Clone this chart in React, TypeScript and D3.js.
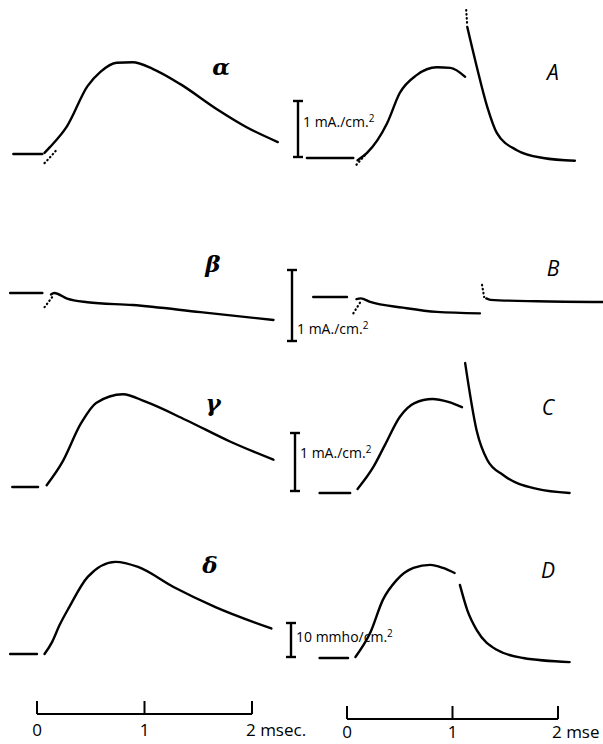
import React from "react";
import * as d3 from "d3";

type Pt = [number, number];

const W = 603;
const H = 744;

// time scale ticks (msec)
const timeTicks = [0, 1, 2];
const leftTickLabels = ["0", "1", "2 msec."];
const rightTickLabels = ["0", "1", "2 mse"];

// α  (computed current, mA/cm²) vs time (msec)
const alphaBefore: Pt[] = [[-0.22, 0], [0.05, 0]];
const alphaStart: Pt[] = [[0.07, -0.16], [0.13, -0.04], [0.19, 0.09]];
const alphaCurve: Pt[] = [
  [0.07, 0.02], [0.12, 0.12], [0.28, 0.49], [0.47, 1.19], [0.59, 1.44],
  [0.74, 1.6], [0.89, 1.61], [1.08, 1.49], [1.33, 1.23], [1.67, 0.79],
  [1.95, 0.47], [2.24, 0.21],
];

// A  (recorded current, mA/cm²)
const aBefore: Pt[] = [[-0.38, 0], [0.06, 0]];
const aStart: Pt[] = [[0.09, -0.12], [0.17, 0.05]];
const aRise: Pt[] = [
  [0.1, -0.04], [0.19, 0.09], [0.38, 0.62], [0.5, 1.16], [0.66, 1.48],
  [0.85, 1.62], [0.98, 1.61], [1.12, 1.45],
];
const aSpike: Pt[] = [[1.13, 2.64], [1.14, 2.36]];
const aFall: Pt[] = [
  [1.14, 2.34], [1.23, 1.63], [1.33, 0.91], [1.42, 0.45], [1.61, 0.14],
  [1.86, 0.0], [2.16, -0.05],
];

// β
const betaBefore: Pt[] = [[-0.25, 0], [0.05, 0]];
const betaStart: Pt[] = [[0.07, -0.2], [0.14, -0.06]];
const betaCurve: Pt[] = [
  [0.13, -0.02], [0.16, 0.0], [0.28, -0.08], [0.47, -0.13], [0.89, -0.17],
  [1.52, -0.27], [2.2, -0.38],
];

// B
const bBefore: Pt[] = [[-0.32, 0], [0.0, 0]];
const bStart: Pt[] = [[0.06, -0.23], [0.14, -0.04]];
const bCurve: Pt[] = [
  [0.09, -0.03], [0.13, -0.02], [0.22, -0.07], [0.53, -0.15], [0.85, -0.21],
  [1.26, -0.23],
];
const bSpike: Pt[] = [[1.28, 0.17], [1.3, 0.0]];
const bAfter: Pt[] = [[1.32, -0.02], [1.36, -0.04], [1.8, -0.06], [2.43, -0.07]];

// γ
const gammaBefore: Pt[] = [[-0.23, 0], [0.01, 0]];
const gammaCurve: Pt[] = [
  [0.09, 0.03], [0.23, 0.41], [0.41, 1.1], [0.55, 1.45], [0.8, 1.6],
  [1.01, 1.47], [1.38, 1.16], [1.8, 0.78], [2.2, 0.47],
];

// C
const cBefore: Pt[] = [[-0.26, 0], [0.03, 0]];
const cRise: Pt[] = [
  [0.1, 0.07], [0.25, 0.45], [0.36, 0.83], [0.5, 1.31], [0.64, 1.55],
  [0.81, 1.62], [0.96, 1.57], [1.09, 1.48],
];
const cFall: Pt[] = [
  [1.12, 2.24], [1.23, 1.07], [1.33, 0.57], [1.48, 0.31], [1.8, 0.07],
  [2.11, 0.0],
];

// δ  (conductance, mmho/cm²)
const deltaBefore: Pt[] = [[-0.25, 0], [0.0, 0]];
const deltaCurve: Pt[] = [
  [0.07, 0.0], [0.14, 3.5], [0.21, 8.5], [0.3, 13.8], [0.47, 22.6],
  [0.73, 27.1], [0.94, 25.6], [1.27, 19.7], [1.66, 13.8], [2.18, 7.5],
];

// D
const dBefore: Pt[] = [[-0.26, 0], [0.01, 0]];
const dRise: Pt[] = [
  [0.08, 0.3], [0.22, 7.4], [0.34, 17.1], [0.47, 22.9], [0.63, 26.5],
  [0.79, 27.4], [0.91, 26.5], [1.02, 25.0],
];
const dFall: Pt[] = [
  [1.07, 21.5], [1.14, 14.1], [1.23, 8.2], [1.42, 2.4], [1.67, 0.0],
  [2.11, -1.2],
];

// layout
const xLeft = d3.scaleLinear().domain([0, 2]).range([37, 252]);
const xRight = d3.scaleLinear().domain([0, 2]).range([347, 558]);

type Seg = { data: Pt[]; dotted?: boolean };
type Panel = {
  right: boolean;
  base: number;
  ppu: number;
  label: string;
  lx: number;
  ly: number;
  segs: Seg[];
};

const panels: Panel[] = [
  { right: false, base: 154, ppu: 57, label: "α", lx: 221, ly: 75,
    segs: [{ data: alphaBefore }, { data: alphaStart, dotted: true }, { data: alphaCurve }] },
  { right: true, base: 158, ppu: 56, label: "A", lx: 553, ly: 80,
    segs: [{ data: aBefore }, { data: aStart, dotted: true }, { data: aRise },
      { data: aSpike, dotted: true }, { data: aFall }] },
  { right: false, base: 293, ppu: 71, label: "β", lx: 213, ly: 272,
    segs: [{ data: betaBefore }, { data: betaStart, dotted: true }, { data: betaCurve }] },
  { right: true, base: 297, ppu: 71, label: "B", lx: 553, ly: 276,
    segs: [{ data: bBefore }, { data: bStart, dotted: true }, { data: bCurve },
      { data: bSpike, dotted: true }, { data: bAfter }] },
  { right: false, base: 487, ppu: 58, label: "γ", lx: 213, ly: 411,
    segs: [{ data: gammaBefore }, { data: gammaCurve }] },
  { right: true, base: 493, ppu: 58, label: "C", lx: 548, ly: 415,
    segs: [{ data: cBefore }, { data: cRise }, { data: cFall }] },
  { right: false, base: 654, ppu: 3.4, label: "δ", lx: 210, ly: 573,
    segs: [{ data: deltaBefore }, { data: deltaCurve }] },
  { right: true, base: 658, ppu: 3.4, label: "D", lx: 548, ly: 578,
    segs: [{ data: dBefore }, { data: dRise }, { data: dFall }] },
];

// calibration bars: value in panel units
const bars = [
  { x: 298, bottom: 157, ppu: 56, value: 1, text: "1 mA./cm.", tx: 303, ty: 127 },
  { x: 292, bottom: 341, ppu: 71, value: 1, text: "1 mA./cm.", tx: 297, ty: 334 },
  { x: 295, bottom: 491, ppu: 58, value: 1, text: "1 mA./cm.", tx: 300, ty: 458 },
  { x: 291, bottom: 657, ppu: 3.4, value: 10, text: "10 mmho/cm.", tx: 296, ty: 642 },
];

const sans = "'Open Sans', 'DejaVu Sans', sans-serif";

function App() {
  return (
    <svg
      width={W}
      height={H}
      style={{ position: "absolute", left: 0, top: 0, background: "#fff" }}
    >
      {panels.map((p, i) => {
        const x = p.right ? xRight : xLeft;
        const y = d3.scaleLinear().domain([0, 1]).range([p.base, p.base - p.ppu]);
        const line = d3
          .line<Pt>()
          .x((d) => x(d[0]))
          .y((d) => y(d[1]))
          .curve(d3.curveMonotoneX);
        return (
          <g key={i}>
            {p.segs.map((s, j) => (
              <path
                key={j}
                d={line(s.data) || ""}
                fill="none"
                stroke="#000"
                strokeWidth={s.dotted ? 2.2 : 2.4}
                strokeLinecap="round"
                strokeDasharray={s.dotted ? "0.5 3.5" : undefined}
              />
            ))}
            <text
              x={p.lx}
              y={p.ly}
              textAnchor="middle"
              fontFamily={p.right ? sans : "'DejaVu Serif', serif"}
              fontStyle="italic"
              fontWeight={p.right ? "normal" : "bold"}
              fontSize={p.right ? 21 : 23}
            >
              {p.label}
            </text>
          </g>
        );
      })}

      {bars.map((b, i) => {
        const top = b.bottom - b.ppu * b.value;
        return (
          <g key={i} stroke="#000" strokeWidth={2.4}>
            <line x1={b.x} x2={b.x} y1={top} y2={b.bottom} />
            <line x1={b.x - 5} x2={b.x + 5} y1={top} y2={top} />
            <line x1={b.x - 5} x2={b.x + 5} y1={b.bottom} y2={b.bottom} />
            <text
              x={b.tx}
              y={b.ty}
              stroke="none"
              fill="#000"
              fontFamily={sans}
              fontSize={14}
            >
              {b.text}
              <tspan dy={-5} fontSize={10}>2</tspan>
            </text>
          </g>
        );
      })}

      {[
        { x: xLeft, y: 714, labels: leftTickLabels, ly: 736 },
        { x: xRight, y: 719, labels: rightTickLabels, ly: 738 },
      ].map((a, i) => (
        <g key={i}>
          <line
            x1={a.x(0)}
            x2={a.x(2)}
            y1={a.y}
            y2={a.y}
            stroke="#000"
            strokeWidth={2}
          />
          {timeTicks.map((t, k) => (
            <g key={k}>
              <line
                x1={a.x(t)}
                x2={a.x(t)}
                y1={a.y}
                y2={a.y - 13}
                stroke="#000"
                strokeWidth={2}
              />
              <text
                x={a.x(t)}
                y={a.ly}
                textAnchor={k === 2 ? "start" : "middle"}
                dx={k === 2 ? -6 : 0}
                fontFamily={sans}
                fontSize={17}
              >
                {a.labels[k]}
              </text>
            </g>
          ))}
        </g>
      ))}
    </svg>
  );
}

export default App;
